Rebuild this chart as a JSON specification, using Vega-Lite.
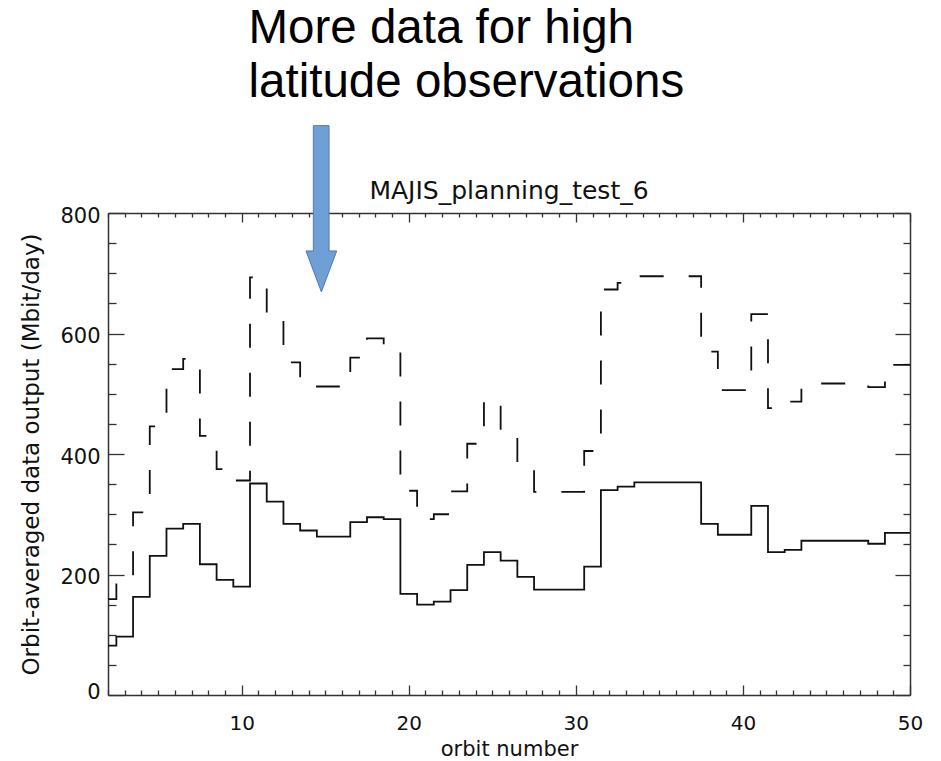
{
  "$schema": "https://vega.github.io/schema/vega-lite/v6.json",
  "width": 802,
  "height": 482,
  "autosize": "none",
  "padding": {"left": 108, "top": 213, "right": 31, "bottom": 66},
  "background": "white",
  "config": {"view": {"stroke": null}, "axis": {"grid": false}},
  "datasets": {
    "orbits": [
      {"orbit": 2, "baseline": 82, "extended": 159},
      {"orbit": 3, "baseline": 97, "extended": 192},
      {"orbit": 4, "baseline": 163, "extended": 303},
      {"orbit": 5, "baseline": 231, "extended": 446},
      {"orbit": 6, "baseline": 276, "extended": 541},
      {"orbit": 7, "baseline": 284, "extended": 558},
      {"orbit": 8, "baseline": 217, "extended": 430},
      {"orbit": 9, "baseline": 191, "extended": 375},
      {"orbit": 10, "baseline": 180, "extended": 356},
      {"orbit": 11, "baseline": 351, "extended": 693},
      {"orbit": 12, "baseline": 321, "extended": 628},
      {"orbit": 13, "baseline": 284, "extended": 552},
      {"orbit": 14, "baseline": 273, "extended": 522},
      {"orbit": 15, "baseline": 263, "extended": 512},
      {"orbit": 16, "baseline": 263, "extended": 512},
      {"orbit": 17, "baseline": 287, "extended": 560},
      {"orbit": 18, "baseline": 295, "extended": 592},
      {"orbit": 19, "baseline": 292, "extended": 575},
      {"orbit": 20, "baseline": 168, "extended": 339},
      {"orbit": 21, "baseline": 150, "extended": 292},
      {"orbit": 22, "baseline": 155, "extended": 300},
      {"orbit": 23, "baseline": 174, "extended": 338},
      {"orbit": 24, "baseline": 216, "extended": 417},
      {"orbit": 25, "baseline": 237, "extended": 490},
      {"orbit": 26, "baseline": 223, "extended": 433},
      {"orbit": 27, "baseline": 196, "extended": 380},
      {"orbit": 28, "baseline": 175, "extended": 337},
      {"orbit": 29, "baseline": 175, "extended": 337},
      {"orbit": 30, "baseline": 175, "extended": 337},
      {"orbit": 31, "baseline": 213, "extended": 405},
      {"orbit": 32, "baseline": 340, "extended": 673},
      {"orbit": 33, "baseline": 346, "extended": 684},
      {"orbit": 34, "baseline": 353, "extended": 695},
      {"orbit": 35, "baseline": 353, "extended": 695},
      {"orbit": 36, "baseline": 353, "extended": 695},
      {"orbit": 37, "baseline": 353, "extended": 695},
      {"orbit": 38, "baseline": 284, "extended": 570},
      {"orbit": 39, "baseline": 266, "extended": 506},
      {"orbit": 40, "baseline": 266, "extended": 506},
      {"orbit": 41, "baseline": 314, "extended": 632},
      {"orbit": 42, "baseline": 237, "extended": 476},
      {"orbit": 43, "baseline": 241, "extended": 487},
      {"orbit": 44, "baseline": 256, "extended": 517},
      {"orbit": 45, "baseline": 256, "extended": 517},
      {"orbit": 46, "baseline": 256, "extended": 517},
      {"orbit": 47, "baseline": 256, "extended": 517},
      {"orbit": 48, "baseline": 251, "extended": 511},
      {"orbit": 49, "baseline": 269, "extended": 548},
      {"orbit": 50, "baseline": 269, "extended": 548}
    ],
    "arrow": [
      {"i": 1, "ax": 14.29, "ay": 945},
      {"i": 2, "ax": 15.23, "ay": 945},
      {"i": 3, "ax": 15.23, "ay": 737},
      {"i": 4, "ax": 15.69, "ay": 737},
      {"i": 5, "ax": 14.77, "ay": 669},
      {"i": 6, "ax": 13.85, "ay": 737},
      {"i": 7, "ax": 14.29, "ay": 737},
      {"i": 8, "ax": 14.29, "ay": 945}
    ],
    "labels": [
      {"note": "annotation"}
    ]
  },
  "layer": [
    {
      "data": {"name": "orbits"},
      "mark": {"type": "line", "interpolate": "step", "color": "#111", "strokeWidth": 1.8},
      "encoding": {
        "x": {
          "field": "orbit", "type": "quantitative",
          "scale": {"domain": [2, 50], "nice": false, "zero": false},
          "axis": {
            "orient": "bottom", "values": [10, 20, 30, 40, 50], "ticks": false,
            "labelPadding": 18, "labelFontSize": 20, "labelFont": "DejaVu Sans", "labelColor": "#111",
            "labelFlush": false, "labelOverlap": false,
            "title": "orbit number", "titleFontSize": 21, "titleFont": "DejaVu Sans",
            "titleFontWeight": "normal", "titlePadding": 5, "titleColor": "#111",
            "domain": true, "domainColor": "#333", "domainWidth": 1.5
          }
        },
        "y": {
          "field": "baseline", "type": "quantitative",
          "scale": {"domain": [0, 800], "nice": false},
          "axis": {
            "orient": "left", "values": [0, 200, 400, 600, 800], "ticks": false,
            "labelPadding": 8, "labelFontSize": 21, "labelFont": "DejaVu Sans", "labelColor": "#111",
            "labelBaseline": {"condition": {"test": "datum.value === 0", "value": "alphabetic"}, "value": "middle"},
            "labelOffset": 3, "labelOverlap": false,
            "title": "Orbit-averaged data output (Mbit/day)", "titleFontSize": 23, "titleFont": "DejaVu Sans",
            "titleFontWeight": "normal", "titlePadding": 16, "titleColor": "#111",
            "domain": true, "domainColor": "#333", "domainWidth": 1.5
          }
        }
      }
    },
    {
      "data": {"name": "orbits"},
      "mark": {"type": "line", "interpolate": "step", "color": "#111", "strokeWidth": 1.8, "strokeDash": [24, 25]},
      "encoding": {
        "x": {
          "field": "orbit", "type": "quantitative",
          "scale": {"domain": [2, 50], "nice": false, "zero": false},
          "axis": {
            "orient": "bottom",
            "values": [2,3,4,5,6,7,8,9,10,11,12,13,14,15,16,17,18,19,20,21,22,23,24,25,26,27,28,29,30,31,32,33,34,35,36,37,38,39,40,41,42,43,44,45,46,47,48,49,50],
            "labels": false, "domain": false, "title": null,
            "tickSize": {"condition": {"test": "datum.value % 10 === 0", "value": -10}, "value": -5},
            "tickColor": "#333", "tickWidth": 1.3
          }
        },
        "y": {
          "field": "extended", "type": "quantitative",
          "scale": {"domain": [0, 800], "nice": false},
          "axis": {
            "orient": "left",
            "values": [0,50,100,150,200,250,300,350,400,450,500,550,600,650,700,750,800],
            "labels": false, "domain": false, "title": null,
            "tickSize": {"condition": {"test": "datum.value % 200 === 0", "value": -16}, "value": -8},
            "tickColor": "#333", "tickWidth": 1.3
          }
        }
      }
    },
    {
      "data": {"name": "arrow"},
      "mark": {"type": "line", "filled": true, "fill": "#6f9fd4", "stroke": "#4d7cb3", "strokeWidth": 1, "interpolate": "linear"},
      "encoding": {
        "order": {"field": "i", "type": "quantitative"},
        "x": {
          "field": "ax", "type": "quantitative",
          "scale": {"domain": [2, 50], "nice": false, "zero": false},
          "axis": {
            "orient": "top",
            "values": [2,3,4,5,6,7,8,9,10,11,12,13,14,15,16,17,18,19,20,21,22,23,24,25,26,27,28,29,30,31,32,33,34,35,36,37,38,39,40,41,42,43,44,45,46,47,48,49,50],
            "labels": false, "title": null,
            "domain": true, "domainColor": "#333", "domainWidth": 1.5,
            "tickSize": {"condition": {"test": "datum.value % 10 === 0", "value": -9}, "value": -4},
            "tickColor": "#333", "tickWidth": 1.3
          }
        },
        "y": {
          "field": "ay", "type": "quantitative",
          "scale": {"domain": [0, 800], "nice": false},
          "axis": {
            "orient": "right",
            "values": [0,50,100,150,200,250,300,350,400,450,500,550,600,650,700,750,800],
            "labels": false, "title": null,
            "domain": true, "domainColor": "#333", "domainWidth": 1.5,
            "tickSize": {"condition": {"test": "datum.value % 200 === 0", "value": -15}, "value": -7},
            "tickColor": "#333", "tickWidth": 1.3
          }
        }
      }
    },
    {
      "data": {"name": "labels"},
      "mark": {"type": "text", "text": ["More data for high", "latitude observations"], "font": "Liberation Sans", "fontSize": 47.5, "lineHeight": 53.5, "align": "left", "baseline": "alphabetic", "color": "#000"},
      "encoding": {
        "x": {"datum": 10.41, "type": "quantitative", "scale": {"domain": [2, 50], "nice": false, "zero": false}, "axis": null},
        "y": {"datum": 1081.7, "type": "quantitative", "scale": {"domain": [0, 800], "nice": false}, "axis": null}
      }
    },
    {
      "data": {"name": "labels"},
      "mark": {"type": "text", "text": "MAJIS_planning_test_6", "font": "DejaVu Sans", "fontSize": 25, "align": "center", "baseline": "alphabetic", "color": "#111"},
      "encoding": {
        "x": {"datum": 26, "type": "quantitative", "scale": {"domain": [2, 50], "nice": false, "zero": false}, "axis": null},
        "y": {"datum": 822.7, "type": "quantitative", "scale": {"domain": [0, 800], "nice": false}, "axis": null}
      }
    }
  ],
  "resolve": {"axis": {"x": "independent", "y": "independent"}}
}
